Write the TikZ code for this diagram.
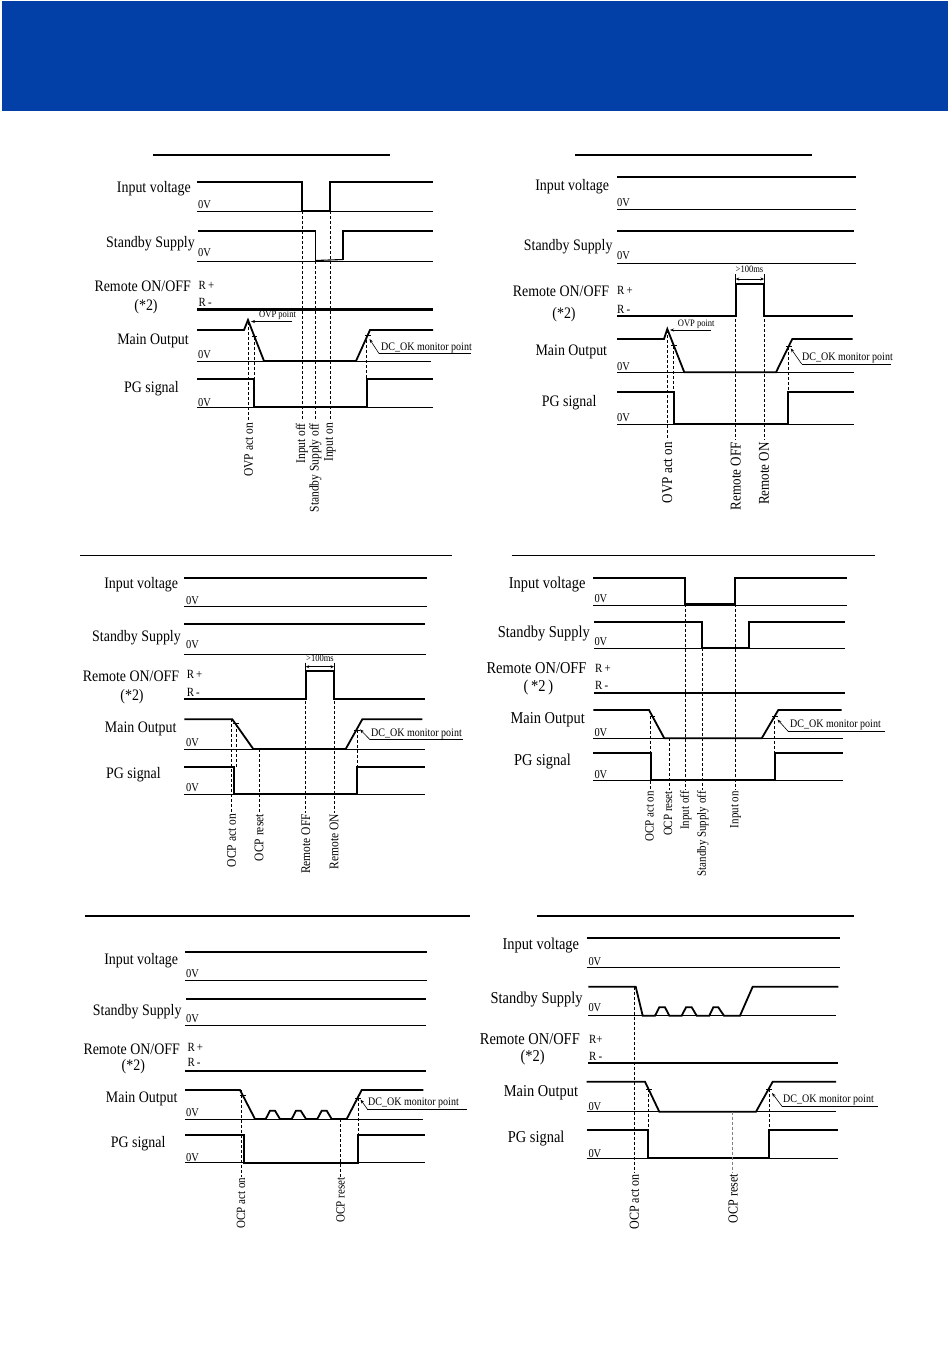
\documentclass[tikz,border=0pt]{standalone}
\usepackage{fontspec}
\setmainfont{Liberation Serif}[FakeStretch=0.87]
\usetikzlibrary{arrows.meta}
\definecolor{hdrblue}{RGB}{2,64,168}
\begin{document}
\begin{tikzpicture}[x=1pt,y=-1pt,
  sig/.style={line width=1.8pt,line join=miter,line cap=butt},
  sigm/.style={line width=1.1pt},
  thin/.style={line width=0.8pt},
  ttl/.style={line width=1.1pt},
  tick/.style={line width=0.6pt},
  dsh/.style={line width=0.6pt,dash pattern=on 3pt off 2pt},
  lab/.style={font=\fontsize{16}{18}\selectfont,inner sep=0pt,anchor=base east},
  labb/.style={font=\fontsize{16.6}{18}\selectfont,inner sep=0pt,anchor=base east},
  zero/.style={font=\fontsize{12}{13}\selectfont,inner sep=0pt,anchor=base west},
  rlab/.style={font=\fontsize{12.5}{13}\selectfont,inner sep=0pt,anchor=base west},
  vl/.style={rotate=90,anchor=east,inner sep=0pt},
  sm/.style={font=\fontsize{9.8}{11}\selectfont,inner sep=0pt},
  dc/.style={font=\fontsize{11.5}{13}\selectfont,inner sep=0pt,anchor=base west},
  arr/.style={line width=0.6pt,-{Stealth[length=4pt,width=3pt]}},
  dim/.style={line width=0.6pt,{Stealth[length=3.5pt,width=3pt]}-{Stealth[length=3.5pt,width=3pt]}}
]
\useasboundingbox (0,0) rectangle (950,1353);
\fill[white] (0,0) rectangle (950,1353);
\fill[hdrblue] (2,1) rectangle (948,111);

%%%%%%%%%%%%%%%% Panel 1 %%%%%%%%%%%%%%%%
\draw[ttl] (153,155) -- (390,155);
\node[lab] (a1) at (191,192.5) {Input voltage};
\node[lab] (a2) at (195,247.5) {Standby Supply};
\node[lab] (a3) at (191,291) {Remote ON/OFF};
\node[lab,anchor=base] (a4) at (146,310) {(*2)};
\node[lab] (a5) at (189,344) {Main Output};
\node[lab,anchor=base west] (a6) at (124,392.3) {PG signal};
\node[zero] (a7) at (198,208) {0V};
\node[zero] (a8) at (198,256) {0V};
\node[zero] (a9) at (198,358.3) {0V};
\node[zero] (a10) at (198,406.5) {0V};
\node[rlab] (a11) at (198.5,289) {R\,+};
\node[rlab] (a12) at (198.5,306) {R\,-};
\draw[sig] (197,182) -- (302,182) -- (302,211) -- (330,211) -- (330,182) -- (433,182);
\draw[thin] (197,211) -- (433,211);
\draw[sig] (198,231) -- (315.5,231) -- (315.5,261);
\draw[sigm] (315.5,260.5) -- (343,259.5);
\draw[sig] (343,260) -- (343,231) -- (433,231);
\draw[thin] (197,261) -- (433,261);
\draw[line width=2.4pt] (197,309.5) -- (433,309.5);
\draw[sig] (197,330) -- (244,330) -- (248,320) -- (264,361) -- (356,361) -- (370,330) -- (433,330);
\draw[thin] (197,361) -- (431,361);
\draw[tick] (251.5,336.5) -- (257,336.5);
\draw[tick] (365,335) -- (370.5,335);
\node[sm,anchor=base west] (a13) at (259,317) {OVP point};
\draw[arr] (292,321.5) -- (251,321.5);
\node[dc] (a14) at (381,350) {DC\_OK monitor point};
\draw[thin] (379,353.5) -- (471,353.5);
\draw[arr] (379,353.5) -- (369.5,339);
\draw[sig] (197,379) -- (254.3,379) -- (254.3,407.3) -- (366.7,407.3) -- (366.7,379) -- (433,379);
\draw[thin] (197,407.3) -- (433,407.3);
\draw[dsh] (248.5,322) -- (248.5,421);
\draw[dsh] (254.3,337) -- (254.3,379);
\draw[dsh] (302,211) -- (302,421);
\draw[dsh] (315.5,261) -- (315.5,421);
\draw[dsh] (330,211) -- (330,421);
\draw[dsh] (366.7,335) -- (366.7,379);
\node[vl,font=\fontsize{13.2}{14}\selectfont] (a15) at (248.5,423) {OVP act on};
\node[vl,font=\fontsize{13.2}{14}\selectfont] (a16) at (302,423) {Input off};
\node[vl,font=\fontsize{13.2}{14}\selectfont] (a17) at (315.5,423) {Standby Supply off};
\node[vl,font=\fontsize{13.2}{14}\selectfont] (a18) at (330,423) {Input on};

%%%%%%%%%%%%%%%% Panel 2 %%%%%%%%%%%%%%%%
\draw[ttl] (575,155) -- (812,155);
\node[lab] (b1) at (609.3,190) {Input voltage};
\node[lab] (b2) at (612.7,250) {Standby Supply};
\node[lab] (b3) at (609.3,296) {Remote ON/OFF};
\node[lab,anchor=base] (b4) at (564,318) {(*2)};
\node[lab] (b5) at (607.3,355) {Main Output};
\node[lab,anchor=base west] (b6) at (541.7,406) {PG signal};
\node[zero] (b7) at (617,206) {0V};
\node[zero] (b8) at (617,259) {0V};
\node[zero] (b9) at (617,370) {0V};
\node[zero] (b10) at (617,421.5) {0V};
\node[rlab] (b11) at (617,294.3) {R\,+};
\node[rlab] (b12) at (617,313) {R\,-};
\draw[sig] (617,177) -- (856,177);
\draw[thin] (617,209.3) -- (856,209.3);
\draw[sig] (617,231) -- (854,231);
\draw[thin] (617,263.3) -- (856,263.3);
\draw[sig] (617,316) -- (735.7,316) -- (735.7,284.3) -- (764,284.3) -- (764,316) -- (853,316);
\draw[tick] (735.7,274) -- (735.7,284.3);
\draw[tick] (764,274) -- (764,284.3);
\draw[dim] (735.7,279) -- (764,279);
\node[sm,anchor=base] (b13) at (749.5,272.5) {>100ms};
\draw[sig] (617,339) -- (664,339) -- (667.3,329) -- (684.3,372.3) -- (776,372.3) -- (792.3,339) -- (852.7,339);
\draw[thin] (617,372.3) -- (854,372.3);
\draw[tick] (671,345.7) -- (676.5,345.7);
\draw[tick] (786,346.7) -- (791.5,346.7);
\node[sm,anchor=base west] (b14) at (677.7,326) {OVP point};
\draw[arr] (711,330) -- (670,330);
\node[dc] (b15) at (802,360.5) {DC\_OK monitor point};
\draw[thin] (801.7,364) -- (890.7,364);
\draw[arr] (801.7,364) -- (790.7,348.3);
\draw[sig] (617,392.3) -- (673.7,392.3) -- (673.7,424) -- (788.3,424) -- (788.3,392.3) -- (854,392.3);
\draw[thin] (617,424) -- (854,424);
\draw[dsh] (667.3,330) -- (667.3,440);
\draw[dsh] (673.7,346) -- (673.7,392.3);
\draw[dsh] (735.7,284.3) -- (735.7,440);
\draw[dsh] (764,284.3) -- (764,440);
\draw[dsh] (788.3,347) -- (788.3,392.3);
\node[vl,font=\fontsize{15}{16}\selectfont] (b16) at (667.3,442) {OVP act on};
\node[vl,font=\fontsize{15}{16}\selectfont] (b17) at (735.7,442) {Remote OFF};
\node[vl,font=\fontsize{15}{16}\selectfont] (b18) at (764,442) {Remote ON};

%%%%%%%%%%%%%%%% Panel 3 %%%%%%%%%%%%%%%%
\draw[ttl] (80,555.7) -- (451.7,555.7);
\node[lab] (c1) at (178.3,588.3) {Input voltage};
\node[lab] (c2) at (181,641.7) {Standby Supply};
\node[lab] (c3) at (179.3,681.7) {Remote ON/OFF};
\node[lab,anchor=base] (c4) at (132,700) {(*2)};
\node[lab] (c5) at (176.7,732.7) {Main Output};
\node[lab,anchor=base west] (c6) at (106,778.3) {PG signal};
\node[zero] (c7) at (186,604) {0V};
\node[zero] (c8) at (186,648) {0V};
\node[zero] (c9) at (186,746) {0V};
\node[zero] (c10) at (186,791.7) {0V};
\node[rlab] (c11) at (186.7,678) {R\,+};
\node[rlab] (c12) at (186.7,696) {R\,-};
\draw[sig] (184.3,577.7) -- (426.7,577.7);
\draw[thin] (184.3,606) -- (426.7,606);
\draw[sig] (184.3,624.3) -- (425,624.3);
\draw[thin] (184.3,654.3) -- (426,654.3);
\draw[sig] (184.3,699) -- (305.7,699) -- (305.7,671) -- (334,671) -- (334,699) -- (425,699);
\draw[tick] (305.7,662.5) -- (305.7,671);
\draw[tick] (334,662.5) -- (334,671);
\draw[dim] (305.7,666.7) -- (334,666.7);
\node[sm,anchor=base] (c13) at (320,661.5) {>100ms};
\draw[sig] (184.3,719.3) -- (232.3,719.3) -- (253.3,749) -- (345.7,749) -- (362.3,719.3) -- (422.3,719.3);
\draw[thin] (184.3,749) -- (425,749);
\draw[tick] (233,723.3) -- (238.5,723.3);
\draw[tick] (354,730) -- (359.5,730);
\node[dc] (c14) at (371,736.5) {DC\_OK monitor point};
\draw[thin] (370,739.7) -- (463.3,739.7);
\draw[arr] (370,739.7) -- (360,729.3);
\draw[sig] (184.3,766.7) -- (234.3,766.7) -- (234.3,794) -- (357.3,794) -- (357.3,766.7) -- (425,766.7);
\draw[thin] (184.3,794) -- (425,794);
\draw[dsh] (231.5,719.3) -- (231.5,813);
\draw[dsh] (236,724) -- (236,766.7);
\draw[dsh] (259,749) -- (259,813);
\draw[dsh] (305.7,671) -- (305.7,813);
\draw[dsh] (334,671) -- (334,813);
\draw[dsh] (357.3,730) -- (357.3,766.7);
\node[vl,font=\fontsize{13.2}{14}\selectfont] (c15) at (231.5,814) {OCP act on};
\node[vl,font=\fontsize{13.2}{14}\selectfont] (c16) at (259,814) {OCP reset};
\node[vl,font=\fontsize{13.2}{14}\selectfont] (c17) at (305.7,814) {Remote OFF};
\node[vl,font=\fontsize{13.2}{14}\selectfont] (c18) at (334,814) {Remote ON};

%%%%%%%%%%%%%%%% Panel 4 %%%%%%%%%%%%%%%%
\draw[ttl] (511.7,555.7) -- (875,555.7);
\node[labb] (d1) at (585.7,588.3) {Input voltage};
\node[labb] (d2) at (590,637.3) {Standby Supply};
\node[labb] (d3) at (586.7,673.3) {Remote ON/OFF};
\node[labb,anchor=base] (d4) at (538.3,691.7) {(\,*2\,)};
\node[labb] (d5) at (585,723.3) {Main Output};
\node[labb,anchor=base west] (d6) at (514,765) {PG signal};
\node[zero] (d7) at (594.3,602.5) {0V};
\node[zero] (d8) at (594.3,645) {0V};
\node[zero] (d9) at (594.3,736) {0V};
\node[zero] (d10) at (594.3,778) {0V};
\node[rlab] (d11) at (595,672.5) {R\,+};
\node[rlab] (d12) at (595,689.3) {R\,-};
\draw[sig] (593.3,577.7) -- (685,577.7) -- (685,604.3) -- (735,604.3) -- (735,577.7) -- (846.7,577.7);
\draw[thin] (593.3,605) -- (846.7,605);
\draw[sig] (594.3,621.7) -- (701.7,621.7) -- (701.7,648.3);
\draw[sigm] (701.7,648) -- (749.3,648);
\draw[sig] (749.3,648.3) -- (749.3,621.7) -- (845,621.7);
\draw[thin] (594.3,648.3) -- (845,648.3);
\draw[sig] (594.3,693.3) -- (845,693.3);
\draw[sig] (593.3,710) -- (649,710) -- (664.3,738.3) -- (761.7,738.3) -- (778.3,710) -- (841.7,710);
\draw[thin] (593.3,738.3) -- (843,738.3);
\draw[tick] (649.5,716) -- (655,716);
\draw[tick] (772,716) -- (777.5,716);
\node[dc] (d13) at (790,727.5) {DC\_OK monitor point};
\draw[thin] (788.3,731.5) -- (885,731.5);
\draw[arr] (788.3,731.5) -- (777.5,719.5);
\draw[sig] (593.3,753.3) -- (650.7,753.3) -- (650.7,780) -- (775,780) -- (775,753.3) -- (843.3,753.3);
\draw[thin] (593.3,780) -- (843.3,780);
\draw[dsh] (650.7,716) -- (650.7,790);
\draw[dsh] (669,738.3) -- (669,790);
\draw[dsh] (685.7,604.3) -- (685.7,790);
\draw[dsh] (702.3,648.3) -- (702.3,790);
\draw[dsh] (735.7,604.3) -- (735.7,790);
\draw[dsh] (774.3,716) -- (774.3,753.3);
\node[vl,font=\fontsize{12.6}{13}\selectfont] (d14) at (649.5,791) {OCP act on};
\node[vl,font=\fontsize{12.6}{13}\selectfont] (d15) at (668,791) {OCP reset};
\node[vl,font=\fontsize{12.6}{13}\selectfont] (d16) at (685.7,791) {Input off};
\node[vl,font=\fontsize{12.6}{13}\selectfont] (d17) at (702.8,791) {Standby Supply off};
\node[vl,font=\fontsize{12.6}{13}\selectfont] (d18) at (735.7,791) {Input on};

%%%%%%%%%%%%%%%% Panel 5 %%%%%%%%%%%%%%%%
\draw[ttl] (85,916) -- (470,916);
\node[lab] (e1) at (178.3,964) {Input voltage};
\node[lab] (e2) at (181.7,1015) {Standby Supply};
\node[lab] (e3) at (180,1054) {Remote ON/OFF};
\node[lab,anchor=base] (e4) at (133.3,1070) {(*2)};
\node[lab] (e5) at (177.7,1102.3) {Main Output};
\node[lab,anchor=base west] (e6) at (110.7,1147.3) {PG signal};
\node[zero] (e7) at (186,977) {0V};
\node[zero] (e8) at (186,1022.5) {0V};
\node[zero] (e9) at (186,1116) {0V};
\node[zero] (e10) at (186,1161) {0V};
\node[rlab] (e11) at (187.3,1051.7) {R\,+};
\node[rlab] (e12) at (187.3,1066.7) {R\,-};
\draw[sig] (185,952.3) -- (427.3,952.3);
\draw[thin] (185,980) -- (427.3,980);
\draw[sig] (186,999) -- (425.7,999);
\draw[thin] (185,1025.7) -- (426,1025.7);
\draw[sig] (185,1071) -- (425.7,1071);
\draw[sig] (185,1090) -- (240,1090) -- (255,1119) -- (265.7,1119) -- (270,1110.7) -- (275,1110.7) -- (280,1119) -- (291.7,1119) -- (296,1110.7) -- (300.7,1110.7) -- (306,1119) -- (317.3,1119) -- (321.7,1110.7) -- (326.7,1110.7) -- (331.7,1119) -- (346.7,1119) -- (361.7,1090) -- (423.3,1090);
\draw[thin] (185,1119) -- (423.3,1119);
\draw[tick] (240,1095) -- (245.5,1095);
\draw[tick] (355,1098) -- (360.5,1098);
\node[dc] (e13) at (368,1105.5) {DC\_OK monitor point};
\draw[thin] (367.3,1109) -- (466.7,1109);
\draw[arr] (367.3,1109) -- (360.5,1099.5);
\draw[sig] (185,1135) -- (244.3,1135) -- (244.3,1162.7) -- (358.3,1162.7) -- (358.3,1135) -- (425,1135);
\draw[thin] (185,1162.7) -- (425,1162.7);
\draw[dsh] (241.5,1090) -- (241.5,1177);
\draw[dsh] (340,1119) -- (340,1177);
\draw[dsh] (358.3,1098) -- (358.3,1135);
\node[vl,font=\fontsize{12.6}{13}\selectfont] (e14) at (241,1177.5) {OCP act on};
\node[vl,font=\fontsize{12.6}{13}\selectfont] (e15) at (340.5,1177.5) {OCP reset};

%%%%%%%%%%%%%%%% Panel 6 %%%%%%%%%%%%%%%%
\draw[ttl] (536.7,916) -- (854,916);
\node[labb] (f1) at (579.3,949.3) {Input voltage};
\node[labb] (f2) at (582.7,1003.3) {Standby Supply};
\node[labb] (f3) at (580,1044.3) {Remote ON/OFF};
\node[labb,anchor=base] (f4) at (532.7,1061.7) {(*2)};
\node[labb] (f5) at (578.3,1096) {Main Output};
\node[labb,anchor=base west] (f6) at (507.7,1142.3) {PG signal};
\node[zero] (f7) at (588.3,965) {0V};
\node[zero] (f8) at (588.3,1011.5) {0V};
\node[zero] (f9) at (588.3,1110.5) {0V};
\node[zero] (f10) at (588.3,1157) {0V};
\node[rlab] (f11) at (589,1043) {R+};
\node[rlab] (f12) at (589,1060) {R\,-};
\draw[sig] (586.7,937.7) -- (840,937.7);
\draw[thin] (586.7,967.3) -- (840,967.3);
\draw[sig] (588.3,986.7) -- (635.7,986.7) -- (642.7,1015.7) -- (655,1015.7) -- (659.3,1007.3) -- (665,1007.3) -- (669.3,1015.7) -- (681.7,1015.7) -- (686,1007.3) -- (691.7,1007.3) -- (696.7,1015.7) -- (709.3,1015.7) -- (713.3,1007.3) -- (718.3,1007.3) -- (724,1015.7) -- (740,1015.7) -- (752.7,986.7) -- (838.3,986.7);
\draw[thin] (588.3,1015.7) -- (836,1015.7);
\draw[sig] (588.3,1062.7) -- (838.3,1062.7);
\draw[sig] (586.7,1081.7) -- (645,1081.7) -- (659.3,1111.7) -- (756,1111.7) -- (772.7,1081.7) -- (836,1081.7);
\draw[thin] (586.7,1111.7) -- (836,1111.7);
\draw[tick] (646,1089.3) -- (651.5,1089.3);
\draw[tick] (766,1089.3) -- (771.5,1089.3);
\node[dc] (f13) at (783,1102.5) {DC\_OK monitor point};
\draw[thin] (782.3,1106.7) -- (878.3,1106.7);
\draw[arr] (782.3,1106.7) -- (772,1093);
\draw[sig] (586.7,1130) -- (648.3,1130) -- (648.3,1158.3) -- (769,1158.3) -- (769,1130) -- (837.7,1130);
\draw[thin] (586.7,1158.3) -- (837.7,1158.3);
\draw[dsh] (634.3,986.7) -- (634.3,1173);
\draw[dsh] (648.3,1089.3) -- (648.3,1130);
\draw[dsh,gray] (732.3,1111.7) -- (732.3,1173);
\draw[dsh] (769,1089.3) -- (769,1130);
\node[vl,font=\fontsize{13.8}{15}\selectfont] (f14) at (634.3,1174) {OCP act on};
\node[vl,font=\fontsize{13.8}{15}\selectfont] (f15) at (733,1174) {OCP reset};
\end{tikzpicture}
\end{document}
